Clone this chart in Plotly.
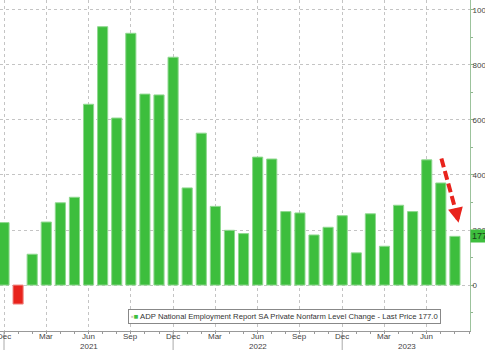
import plotly.graph_objects as go

# Monthly ADP private payroll change (thousands), Dec 2020 .. Aug 2023
months = [
    "Dec 2020", "Jan 2021", "Feb 2021", "Mar 2021", "Apr 2021", "May 2021",
    "Jun 2021", "Jul 2021", "Aug 2021", "Sep 2021", "Oct 2021", "Nov 2021",
    "Dec 2021", "Jan 2022", "Feb 2022", "Mar 2022", "Apr 2022", "May 2022",
    "Jun 2022", "Jul 2022", "Aug 2022", "Sep 2022", "Oct 2022", "Nov 2022",
    "Dec 2022", "Jan 2023", "Feb 2023", "Mar 2023", "Apr 2023", "May 2023",
    "Jun 2023", "Jul 2023", "Aug 2023",
]
values = [
    227, -69, 112, 229, 299, 319,
    657, 939, 607, 915, 694, 691,
    828, 353, 552, 286, 199, 187,
    465, 458, 267, 262, 182, 210,
    252, 117, 259, 141, 290, 267,
    455, 371, 177,
]

# Quarterly month labels on the x axis
tick_idx = [0, 3, 6, 9, 12, 15, 18, 21, 24, 27, 30]
tick_text = ["Dec", "Mar", "Jun", "Sep", "Dec", "Mar", "Jun", "Sep", "Dec", "Mar", "Jun"]
year_labels = ["2021", "2022", "2023"]
year_pos = [6, 18, 28.6]
year_breaks = [0, 12, 24]

y_ticks = [0, 200, 400, 600, 800, 1000]
last_price = values[-1]

GREEN = "#3dbe3d"
RED = "#e8231c"
GRID = "#c4c4c4"
TEXT = "#444444"
FONT = "Liberation Sans, Arial, sans-serif"

x_idx = list(range(len(months)))
colors = [GREEN if v >= 0 else RED for v in values]
edge = ["#8fd88f" if v >= 0 else "#f08a86" for v in values]

fig = go.Figure()
fig.add_trace(go.Bar(
    x=x_idx, y=values, width=0.72,
    marker=dict(color=colors, line=dict(color=edge, width=1)),
    name="ADP National Employment Report SA Private Nonfarm Level Change",
    showlegend=False,
    hovertext=months,
))

fig.update_layout(
    width=485, height=350,
    margin=dict(l=0, r=15, t=0, b=19),
    paper_bgcolor="white", plot_bgcolor="white",
    font=dict(family=FONT, size=8, color=TEXT),
    bargap=0.28,
)

# Month ticks and grid; labels are written as annotations just under the axis line
fig.update_xaxes(
    automargin=False,
    range=[-0.284, 33.07],
    tickmode="array", tickvals=tick_idx, ticktext=tick_text,
    showticklabels=False,
    ticks="outside", ticklen=2, tickcolor="#999",
    minor=dict(dtick=1, tick0=0, ticks="outside", ticklen=2, tickcolor="#999", showgrid=False),
    showgrid=True, gridcolor=GRID, griddash="dot", gridwidth=1,
    showline=True, linecolor="#999", linewidth=1,
    zeroline=False,
)
for pos, lbl in zip(tick_idx, tick_text):
    fig.add_annotation(x=pos, y=-0.018, xref="x", yref="paper", text=lbl,
                       showarrow=False, yanchor="middle", xanchor="center",
                       font=dict(size=8, color=TEXT))

fig.update_yaxes(
    automargin=False,
    side="right", range=[-167, 1036],
    tickmode="array", tickvals=y_ticks, ticktext=[str(v) for v in y_ticks],
    ticks="outside", ticklen=3, tickcolor="#8fb58f", tickfont=dict(size=8, color=TEXT),
    ticklabelstandoff=-3,
    minor=dict(dtick=100, ticks="outside", ticklen=2, tickcolor="#8fb58f", showgrid=False),
    showgrid=True, gridcolor=GRID, griddash="dot", gridwidth=1,
    showline=True, linecolor="#9cc39c", linewidth=1,
    zeroline=False,
)

# Year labels and year separators under the month labels
for lbl, pos in zip(year_labels, year_pos):
    fig.add_annotation(x=pos, y=-0.046, xref="x", yref="paper", text=lbl,
                       showarrow=False, yanchor="middle", font=dict(size=8, color=TEXT))
for b in year_breaks:
    fig.add_shape(type="line", xref="x", yref="paper", x0=b, x1=b, y0=0, y1=-0.06,
                  line=dict(color="#aaa", width=1))

# Legend box
fig.add_annotation(
    x=0.605, y=0.045, xref="paper", yref="paper", xanchor="center", yanchor="middle",
    text=("<span style='color:#c8c8c8'>▪</span><span style='color:" + GREEN + "'>■</span> "
          "ADP National Employment Report SA Private Nonfarm Level Change - Last Price "
          + f"{last_price:.1f}"),
    showarrow=False, font=dict(size=7.7, color="#333"),
    bordercolor="#888", borderwidth=1, borderpad=2, bgcolor="white",
)

# Last price tag on the value axis
fig.add_annotation(
    x=1.0, y=last_price, xref="paper", yref="y", xanchor="left", yanchor="middle",
    text=f"{last_price:.1f}", showarrow=False, font=dict(size=9, color="#1a3d1a"),
    bgcolor=GREEN, borderpad=1,
)

# Red dashed trend arrow over the latest months
fig.add_shape(type="line", xref="x", yref="y", x0=31.04, y0=460, x1=32.1, y1=262,
              line=dict(color=RED, width=4, dash="9px,4px"))
fig.add_annotation(x=32.26, y=226, ax=32.1, ay=264, xref="x", yref="y", axref="x", ayref="y",
                   text="", showarrow=True, arrowhead=2, arrowsize=0.75, arrowwidth=4,
                   arrowcolor=RED)

fig.write_html("out.html")
